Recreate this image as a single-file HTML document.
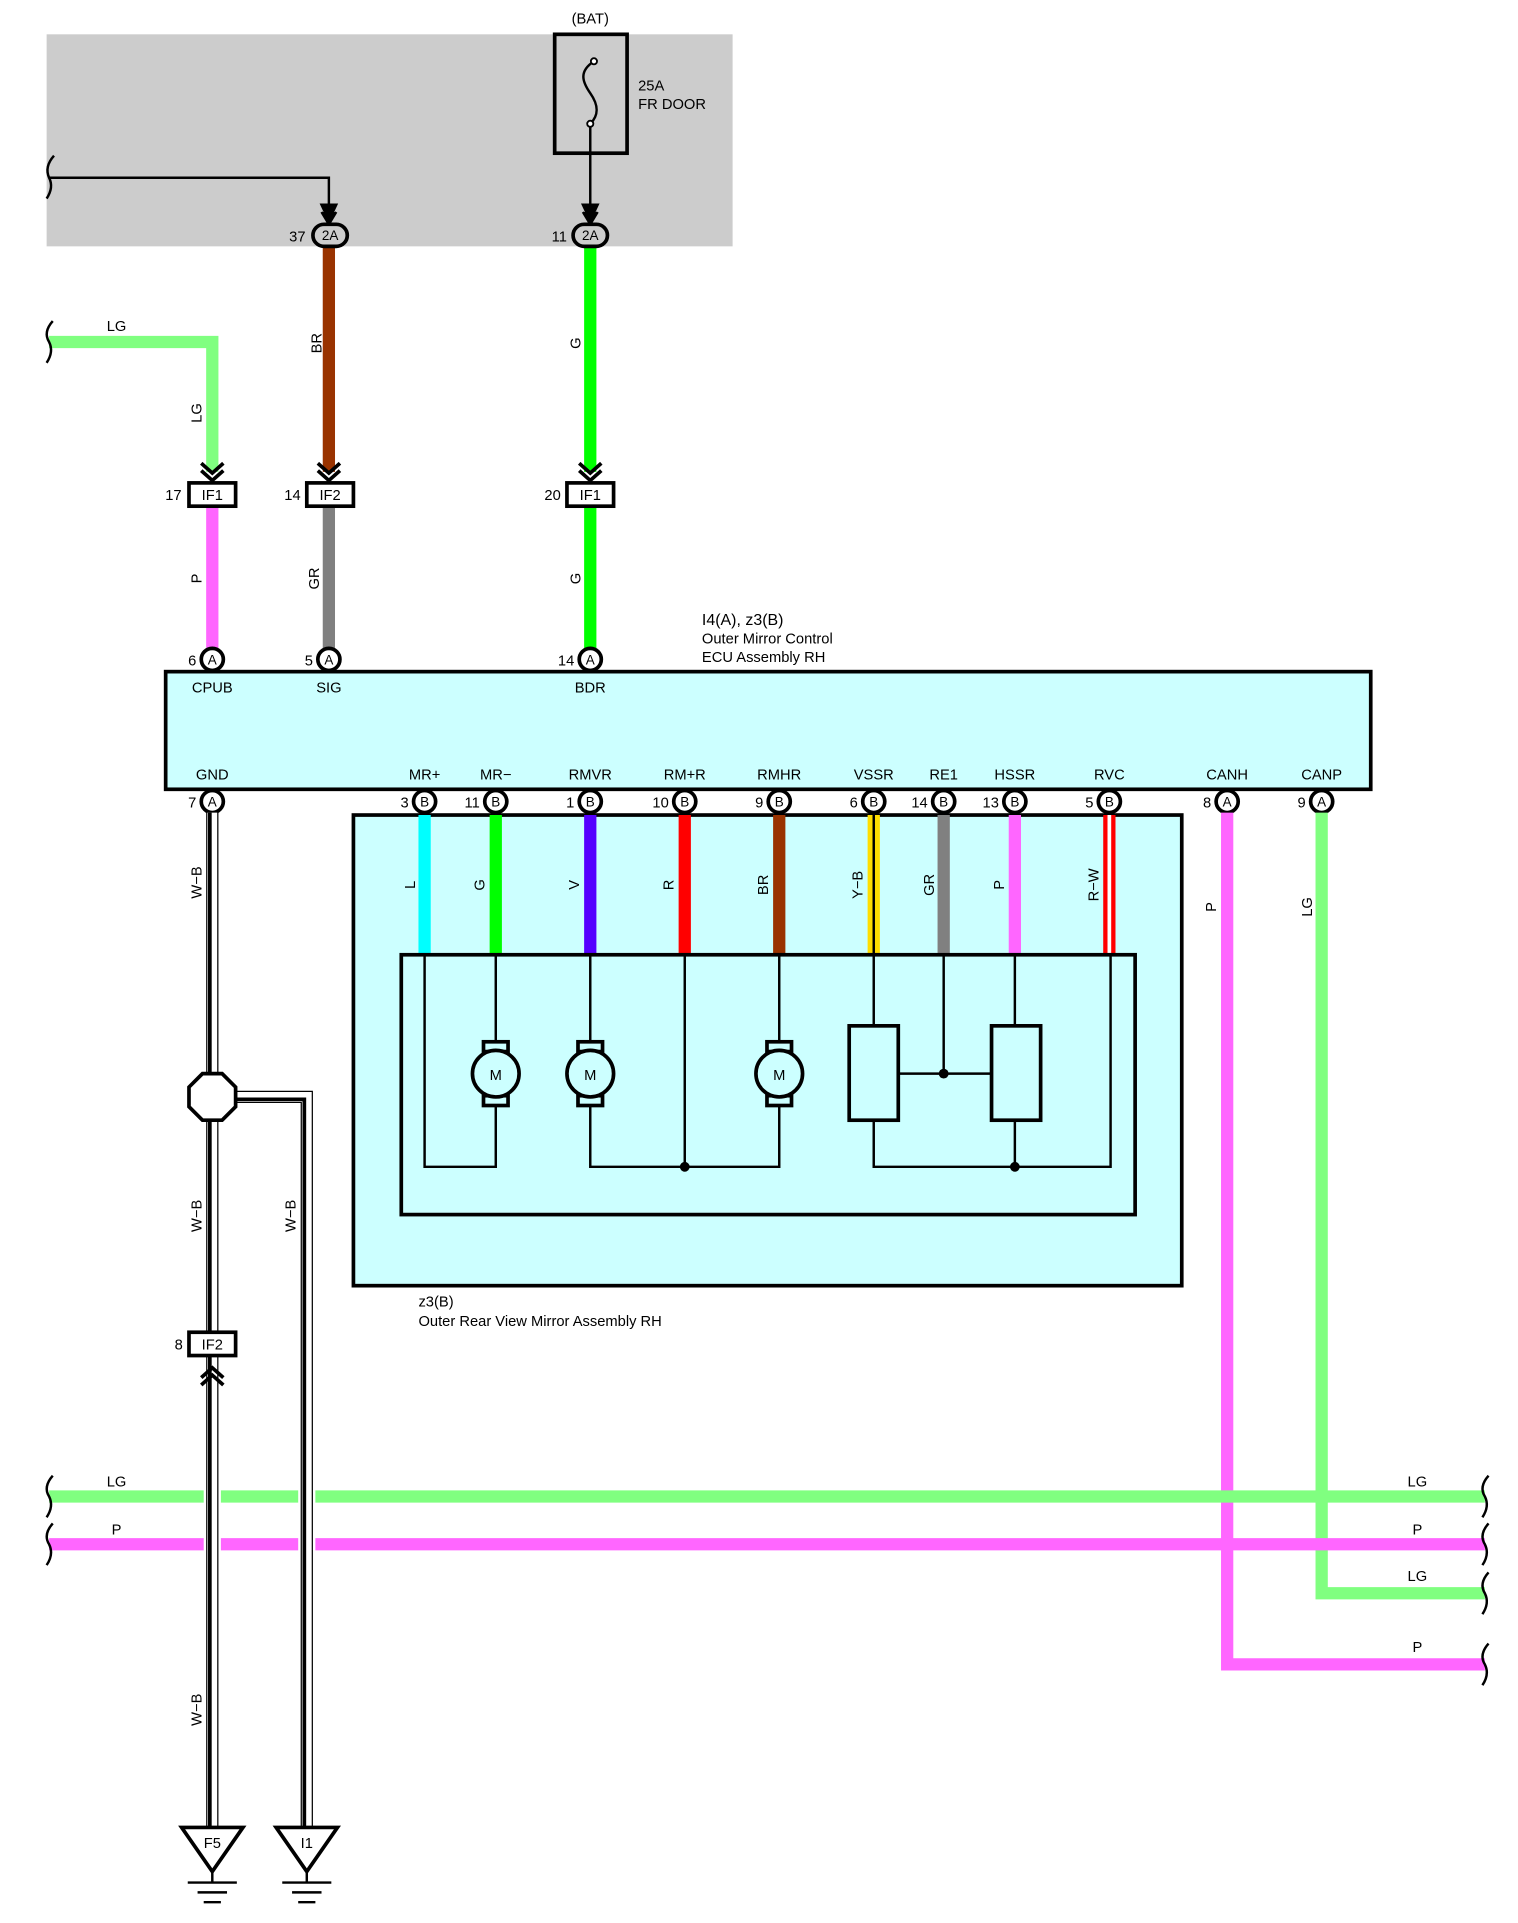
<!DOCTYPE html>
<html><head><meta charset="utf-8"><style>html,body{margin:0;padding:0;background:#fff}svg{display:block}</style></head><body>
<svg width="1518" height="1923" viewBox="0 0 1237 1569" preserveAspectRatio="none" xmlns="http://www.w3.org/2000/svg" font-family="Liberation Sans, sans-serif" font-size="12">
<defs>
<g id="chevD"><path d="M-9,-12 L0,-4 L9,-12 M-9,-6 L0,2 L9,-6" fill="none" stroke="#000" stroke-width="3"/></g>
</defs>
<rect x="38" y="28" width="559" height="173" fill="#cccccc"/>
<text x="481" y="19" text-anchor="middle">(BAT)</text>
<rect x="452" y="28" width="59" height="97" fill="none" stroke="#000" stroke-width="3"/>
<path d="M484,50 C472,58 474,66 481,76 C488,86 488,94 481,101" fill="none" stroke="#000" stroke-width="2"/>
<circle cx="484" cy="50" r="2.5" fill="#fff" stroke="#000" stroke-width="1.5"/>
<circle cx="481" cy="101" r="2.5" fill="#fff" stroke="#000" stroke-width="1.5"/>
<text x="520" y="74">25A</text><text x="520" y="89">FR DOOR</text>
<line x1="481" y1="103" x2="481" y2="178" stroke="#000" stroke-width="2"/>
<path d="M40,145 H268 V178" fill="none" stroke="#000" stroke-width="2"/>
<path d="M44,127 Q36,136 40,145 Q44,153 38,162" fill="none" stroke="#000" stroke-width="2"/>
<path d="M262,167 L268,180 L274,167 Z M262,173 L268,183 L274,173" fill="#000" stroke="#000" stroke-width="2"/>
<path d="M475,167 L481,180 L487,167 Z M475,173 L481,183 L487,173" fill="#000" stroke="#000" stroke-width="2"/>
<line x1="268" y1="200" x2="268" y2="385" stroke="#993300" stroke-width="10"/>
<line x1="481" y1="200" x2="481" y2="385" stroke="#00ff00" stroke-width="10"/>
<path d="M40,279 H173 V385" fill="none" stroke="#80ff80" stroke-width="10"/>
<path d="M43,262 Q35,271 40,279 Q44,287 38,296" fill="none" stroke="#000" stroke-width="2"/>
<text x="95" y="270" text-anchor="middle">LG</text>
<text transform="translate(262,280) rotate(-90)" text-anchor="middle">BR</text>
<text transform="translate(473,280) rotate(-90)" text-anchor="middle">G</text>
<text transform="translate(164,337) rotate(-90)" text-anchor="middle">LG</text>
<g stroke="#000" stroke-width="3" fill="#ccc">
<rect x="255" y="183" width="28" height="18" rx="9"/>
<rect x="467" y="183" width="28" height="18" rx="9"/>
</g>
<text x="269" y="196" text-anchor="middle" font-size="11">2A</text>
<text x="481" y="196" text-anchor="middle" font-size="11">2A</text>
<text x="249" y="197" text-anchor="end">37</text>
<text x="462" y="197" text-anchor="end">11</text>
<use href="#chevD" x="173" y="390"/><use href="#chevD" x="268" y="390"/><use href="#chevD" x="481" y="390"/>
<line x1="173" y1="413" x2="173" y2="530" stroke="#ff66ff" stroke-width="10"/>
<line x1="268" y1="413" x2="268" y2="530" stroke="#808080" stroke-width="10"/>
<line x1="481" y1="413" x2="481" y2="530" stroke="#00ff00" stroke-width="10"/>
<text transform="translate(164,472) rotate(-90)" text-anchor="middle">P</text>
<text transform="translate(260,472) rotate(-90)" text-anchor="middle">GR</text>
<text transform="translate(473,472) rotate(-90)" text-anchor="middle">G</text>
<g fill="#fff" stroke="#000" stroke-width="3">
<rect x="154" y="394" width="38" height="19"/><rect x="250" y="394" width="38" height="19"/><rect x="462" y="394" width="38" height="19"/>
</g>
<text x="173" y="408" text-anchor="middle">IF1</text><text x="269" y="408" text-anchor="middle">IF2</text><text x="481" y="408" text-anchor="middle">IF1</text>
<text x="148" y="408" text-anchor="end">17</text><text x="245" y="408" text-anchor="end">14</text><text x="457" y="408" text-anchor="end">20</text>
<text x="572" y="510" font-size="13">I4(A), z3(B)</text>
<text x="572" y="525">Outer Mirror Control</text>
<text x="572" y="540">ECU Assembly RH</text>
<rect x="135" y="548" width="982" height="96" fill="#ccffff" stroke="#000" stroke-width="3"/>
<g text-anchor="middle">
<text x="173" y="565">CPUB</text><text x="268" y="565">SIG</text><text x="481" y="565">BDR</text>
<text x="173" y="636">GND</text><text x="346" y="636">MR+</text><text x="404" y="636">MR−</text><text x="481" y="636">RMVR</text><text x="558" y="636">RM+R</text><text x="635" y="636">RMHR</text><text x="712" y="636">VSSR</text><text x="769" y="636">RE1</text><text x="827" y="636">HSSR</text><text x="904" y="636">RVC</text><text x="1000" y="636">CANH</text><text x="1077" y="636">CANP</text>
</g>
<rect x="288" y="665" width="675" height="384" fill="#ccffff" stroke="#000" stroke-width="3"/>
<text x="341" y="1066">z3(B)</text>
<text x="341" y="1082">Outer Rear View Mirror Assembly RH</text>
<g stroke-width="10">
<line x1="346" y1="665" x2="346" y2="779" stroke="#00ffff"/>
<line x1="404" y1="665" x2="404" y2="779" stroke="#00ff00"/>
<line x1="481" y1="665" x2="481" y2="779" stroke="#5500ff"/>
<line x1="558" y1="665" x2="558" y2="779" stroke="#ff0000"/>
<line x1="635" y1="665" x2="635" y2="779" stroke="#993300"/>
<line x1="712" y1="665" x2="712" y2="779" stroke="#ffdd00"/>
<line x1="769" y1="665" x2="769" y2="779" stroke="#808080"/>
<line x1="827" y1="665" x2="827" y2="779" stroke="#ff66ff"/>
<line x1="904" y1="665" x2="904" y2="779" stroke="#ff0000"/>
</g>
<line x1="712" y1="665" x2="712" y2="779" stroke="#000" stroke-width="2"/>
<line x1="904" y1="665" x2="904" y2="779" stroke="#fff" stroke-width="3"/>
<g text-anchor="middle">
<text transform="translate(338,722) rotate(-90)">L</text>
<text transform="translate(395,722) rotate(-90)">G</text>
<text transform="translate(472,722) rotate(-90)">V</text>
<text transform="translate(549,722) rotate(-90)">R</text>
<text transform="translate(626,722) rotate(-90)">BR</text>
<text transform="translate(703,722) rotate(-90)">Y−B</text>
<text transform="translate(761,722) rotate(-90)">GR</text>
<text transform="translate(818,722) rotate(-90)">P</text>
<text transform="translate(895,722) rotate(-90)">R−W</text>
<text transform="translate(991,740) rotate(-90)">P</text>
<text transform="translate(1069,740) rotate(-90)">LG</text>
</g>
<rect x="327" y="779" width="598" height="212" fill="none" stroke="#000" stroke-width="3"/>
<g fill="none" stroke="#000" stroke-width="2">
<path d="M346,779 V952 H404 V779"/>
<path d="M481,779 V952 H635 V779"/>
<path d="M558,779 V952"/>
<path d="M712,779 V952 H905 V779"/>
<path d="M769,779 V876 M732,876 H808"/>
<path d="M827,779 V952"/>
</g>
<g fill="#ccffff" stroke="#000" stroke-width="3">
<rect x="692" y="837" width="40" height="77"/><rect x="808" y="837" width="40" height="77"/>
</g>
<circle cx="769" cy="876" r="4" fill="#000"/><circle cx="558" cy="952" r="4" fill="#000"/><circle cx="827" cy="952" r="4" fill="#000"/>
<g id="motor">
<rect x="394" y="850" width="20" height="8" fill="#ccffff" stroke="#000" stroke-width="3"/>
<rect x="394" y="894" width="20" height="8" fill="#ccffff" stroke="#000" stroke-width="3"/>
<circle cx="404" cy="876" r="19" fill="#ccffff" stroke="#000" stroke-width="3"/>
<text x="404" y="881" text-anchor="middle">M</text>
</g>
<use href="#motor" x="77"/><use href="#motor" x="231"/>
<g fill="#fff" stroke="#000" stroke-width="3">
<circle cx="173" cy="538" r="9"/><circle cx="268" cy="538" r="9"/><circle cx="481" cy="538" r="9"/>
<circle cx="173" cy="654" r="9"/><circle cx="346" cy="654" r="9"/><circle cx="404" cy="654" r="9"/><circle cx="481" cy="654" r="9"/><circle cx="558" cy="654" r="9"/><circle cx="635" cy="654" r="9"/><circle cx="712" cy="654" r="9"/><circle cx="769" cy="654" r="9"/><circle cx="827" cy="654" r="9"/><circle cx="904" cy="654" r="9"/><circle cx="1000" cy="654" r="9"/><circle cx="1077" cy="654" r="9"/>
</g>
<g text-anchor="middle" font-size="11">
<text x="173" y="542">A</text><text x="268" y="542">A</text><text x="481" y="542">A</text>
<text x="173" y="658">A</text><text x="346" y="658">B</text><text x="404" y="658">B</text><text x="481" y="658">B</text><text x="558" y="658">B</text><text x="635" y="658">B</text><text x="712" y="658">B</text><text x="769" y="658">B</text><text x="827" y="658">B</text><text x="904" y="658">B</text><text x="1000" y="658">A</text><text x="1077" y="658">A</text>
</g>
<g text-anchor="end">
<text x="160" y="543">6</text><text x="255" y="543">5</text><text x="468" y="543">14</text>
<text x="160" y="659">7</text><text x="333" y="659">3</text><text x="391" y="659">11</text><text x="468" y="659">1</text><text x="545" y="659">10</text><text x="622" y="659">9</text><text x="699" y="659">6</text><text x="756" y="659">14</text><text x="814" y="659">13</text><text x="891" y="659">5</text><text x="987" y="659">8</text><text x="1064" y="659">9</text>
</g>
<path d="M1000,663 V1358 H1210" fill="none" stroke="#ff66ff" stroke-width="10"/>
<path d="M1077,663 V1300 H1210" fill="none" stroke="#80ff80" stroke-width="10"/>
<line x1="40" y1="1221" x2="1210" y2="1221" stroke="#80ff80" stroke-width="10"/>
<line x1="40" y1="1260" x2="1210" y2="1260" stroke="#ff66ff" stroke-width="10"/>
<g fill="none" stroke="#000" stroke-width="2">
<path d="M43,1204 Q35,1213 40,1221 Q44,1229 38,1238"/><path d="M43,1243 Q35,1252 40,1260 Q44,1268 38,1277"/>
<path d="M1213,1204 Q1205,1213 1210,1221 Q1214,1229 1208,1238"/><path d="M1213,1243 Q1205,1252 1210,1260 Q1214,1268 1208,1277"/>
<path d="M1213,1283 Q1205,1292 1210,1300 Q1214,1308 1208,1317"/><path d="M1213,1341 Q1205,1350 1210,1358 Q1214,1366 1208,1375"/>
</g>
<text x="95" y="1213" text-anchor="middle">LG</text><text x="95" y="1252" text-anchor="middle">P</text>
<text x="1155" y="1213" text-anchor="middle">LG</text><text x="1155" y="1252" text-anchor="middle">P</text>
<text x="1155" y="1290" text-anchor="middle">LG</text><text x="1155" y="1348" text-anchor="middle">P</text>
<rect x="166" y="1213" width="14" height="55" fill="#fff"/><rect x="243" y="1213" width="14" height="55" fill="#fff"/>
<g fill="none">
<path d="M173,663 V1490" stroke="#000" stroke-width="10"/>
<path d="M173,663 V1490" stroke="#fff" stroke-width="8"/>
<path d="M171,663 V1490" stroke="#000" stroke-width="3"/>
<path d="M190,895 H250 V1490" stroke="#000" stroke-width="10"/>
<path d="M190,895 H250 V1490" stroke="#fff" stroke-width="8"/>
<path d="M190,897 H248 V1490" stroke="#000" stroke-width="3"/>
</g>
<polygon points="165,876 181,876 192,887 192,903 181,914 165,914 154,903 154,887" fill="#fff" stroke="#000" stroke-width="3"/>
<path d="M164,1124 L173,1116 L182,1124 M164,1130 L173,1122 L182,1130" fill="none" stroke="#000" stroke-width="3"/>
<rect x="154" y="1087" width="38" height="19" fill="#fff" stroke="#000" stroke-width="3"/>
<text x="173" y="1101" text-anchor="middle">IF2</text><text x="149" y="1101" text-anchor="end">8</text>
<g text-anchor="middle">
<text transform="translate(164,720) rotate(-90)">W−B</text>
<text transform="translate(164,992) rotate(-90)">W−B</text>
<text transform="translate(241,992) rotate(-90)">W−B</text>
<text transform="translate(164,1395) rotate(-90)">W−B</text>
</g>
<g fill="#fff" stroke="#000" stroke-width="3">
<polygon points="148,1491 198,1491 173,1527"/><polygon points="225,1491 275,1491 250,1527"/>
</g>
<text x="173" y="1508" text-anchor="middle">F5</text><text x="250" y="1508" text-anchor="middle">I1</text>
<g stroke="#000" stroke-width="2">
<line x1="173" y1="1527" x2="173" y2="1536"/><line x1="153" y1="1536" x2="193" y2="1536"/><line x1="161" y1="1544" x2="185" y2="1544"/><line x1="166" y1="1552" x2="180" y2="1552"/>
<line x1="250" y1="1527" x2="250" y2="1536"/><line x1="230" y1="1536" x2="270" y2="1536"/><line x1="238" y1="1544" x2="262" y2="1544"/><line x1="243" y1="1552" x2="257" y2="1552"/>
</g>
</svg>
</body></html>
